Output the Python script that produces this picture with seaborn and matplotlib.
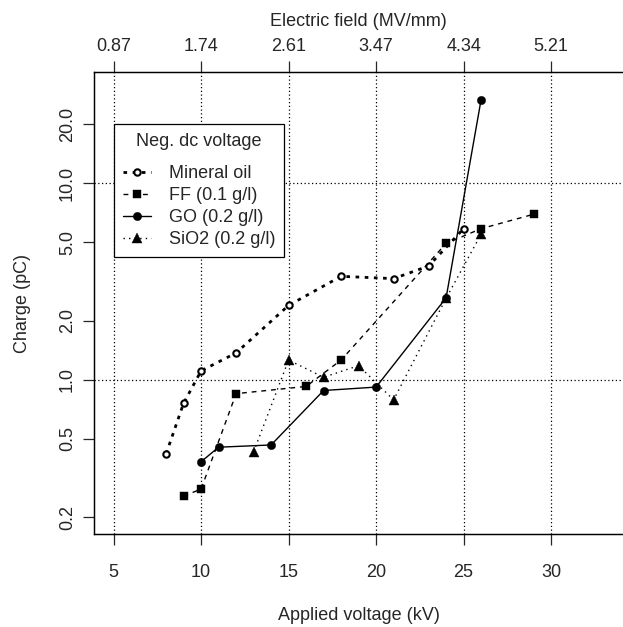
import matplotlib
matplotlib.use("Agg")
import seaborn as sns
import pandas as pd
import matplotlib.pyplot as plt
from matplotlib.ticker import FixedLocator, NullLocator

oil_kv = [8, 9, 10, 12, 15, 18, 21, 23, 25]
oil_pc = [0.42, 0.76, 1.11, 1.37, 2.39, 3.36, 3.27, 3.79, 5.87]

ff_kv = [9, 10, 12, 16, 18, 24, 26, 29]
ff_pc = [0.256, 0.278, 0.85, 0.925, 1.26, 4.94, 5.87, 6.95]

go_kv = [10, 11, 14, 17, 20, 24, 26]
go_pc = [0.383, 0.454, 0.466, 0.882, 0.918, 2.61, 26.6]

sio2_kv = [13, 15, 17, 19, 21, 24, 26]
sio2_pc = [0.43, 1.26, 1.03, 1.18, 0.79, 2.6, 5.5]

names = ["Mineral oil", "FF (0.1 g/l)", "GO (0.2 g/l)", "SiO2 (0.2 g/l)"]

kv_ticks = [5, 10, 15, 20, 25, 30]
field_labels = ["0.87", "1.74", "2.61", "3.47", "4.34", "5.21"]
pc_ticks = [0.2, 0.5, 1.0, 2.0, 5.0, 10.0, 20.0]
pc_labels = ["0.2", "0.5", "1.0", "2.0", "5.0", "10.0", "20.0"]
pc_grid = [1.0, 10.0]

sns.set_style("ticks")
plt.rcParams["font.family"] = ["Liberation Sans", "DejaVu Sans"]
plt.rcParams["font.size"] = 13

W, H = 623, 627
fig = plt.figure(figsize=(W / 100, H / 100), dpi=100)
ax = fig.add_axes([94 / W, 1 - 534.3 / H, 529.2 / W, 462 / H])

styles = [
    dict(linestyle=(0, (1.3, 2.0)), linewidth=2.0, marker="o", markersize=4.6,
         markerfacecolor="white", markeredgecolor="black", markeredgewidth=1.5),
    dict(linestyle=(0, (3.5, 3.5)), linewidth=1.0, marker="s", markersize=6.0,
         markerfacecolor="black", markeredgecolor="black", markeredgewidth=0.3),
    dict(linestyle="-", linewidth=1.0, marker="o", markersize=6.0,
         markerfacecolor="black", markeredgecolor="black", markeredgewidth=0.3),
    dict(linestyle=(0, (1, 3)), linewidth=1.0, marker="^", markersize=7.0,
         markerfacecolor="black", markeredgecolor="black", markeredgewidth=0.3),
]
series = [(oil_kv, oil_pc), (ff_kv, ff_pc), (go_kv, go_pc), (sio2_kv, sio2_pc)]

for (kv, pc), name, st in zip(series, names, styles):
    df = pd.DataFrame({"kv": kv, "pc": pc})
    sns.lineplot(data=df, x="kv", y="pc", ax=ax, color="black", label=name,
                 errorbar=None, zorder=3, **st)

ax.set_yscale("log")
ax.set_xlim(3.88, 34.12)
ax.set_ylim(0.16368, 36.65)

ax.xaxis.set_major_locator(FixedLocator(kv_ticks))
ax.set_xticklabels([str(t) for t in kv_ticks])
ax.yaxis.set_major_locator(FixedLocator(pc_ticks))
ax.yaxis.set_minor_locator(NullLocator())
ax.set_yticklabels(pc_labels)
plt.setp(ax.get_yticklabels(), rotation=90, va="center")

grid_kw = dict(color="black", linewidth=0.9, linestyle=(0, (1, 2)), zorder=1)
for t in kv_ticks:
    ax.axvline(t, **grid_kw)
for g in pc_grid:
    ax.axhline(g, **grid_kw)

ax.tick_params(axis="x", direction="out", length=7.7, width=0.9, pad=14, labelsize=13)
ax.tick_params(axis="y", direction="out", length=7.7, width=0.9, pad=5.2, labelsize=13)

ax2 = ax.twiny()
ax2.set_xlim(ax.get_xlim())
ax2.xaxis.set_major_locator(FixedLocator(kv_ticks))
ax2.set_xticklabels(field_labels)
ax2.tick_params(axis="x", direction="out", length=7.7, width=0.9, pad=5.1, labelsize=13)

for a in (ax, ax2):
    for side in ("left", "bottom", "top"):
        a.spines[side].set_color("black")
        a.spines[side].set_linewidth(0.9)
    a.spines["right"].set_visible(False)

ax.set_xlabel("Applied voltage (kV)", fontsize=13, va="center")
ax.xaxis.set_label_coords(0.5, (534.3 - 615) / 462)
ax2.set_xlabel("Electric field (MV/mm)", fontsize=13, va="center")
ax2.xaxis.set_label_coords(0.5, 1 + (72.3 - 21) / 462)
ax.set_ylabel("Charge (pC)", fontsize=13, va="center")
ax.yaxis.set_label_coords((23 - 94) / 529.2, 0.5)

leg = ax.legend(title="Neg. dc voltage", loc="upper left", bbox_to_anchor=(5, 20),
                bbox_transform=ax.transData, borderaxespad=0, borderpad=0.5,
                handlelength=1.59, handletextpad=0.97, labelspacing=0.28,
                fontsize=13, title_fontsize=13, fancybox=False, framealpha=1,
                edgecolor="black", numpoints=1)
leg.get_frame().set_linewidth(0.9)
leg._legend_box.sep = 10.9  # bigger gap under the title only
leg.set_zorder(5)

fig.savefig("out.png", dpi=100)
